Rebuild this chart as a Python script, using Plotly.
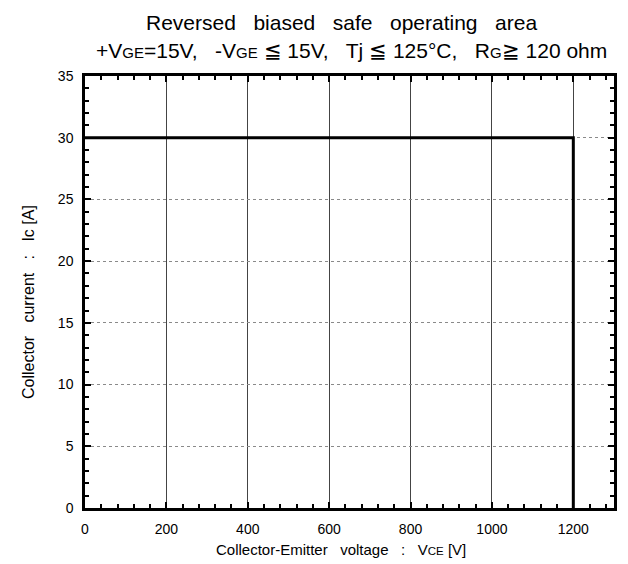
import plotly.graph_objects as go

voltage = [0, 1200, 1200]
current = [30, 30, 0]
x_ticks = [0, 200, 400, 600, 800, 1000, 1200]
y_ticks = [0, 5, 10, 15, 20, 25, 30, 35]

FONT = "Arial, Liberation Sans, sans-serif"


def sub(s, size):
    return f"<span style='font-size:{size}px'>{s}</span>"


# page offset (browser body margin) compensation
OFF = 8
PLOT_TOP, PLOT_H = 76, 432


def py(p):
    """page pixel y -> paper coordinate"""
    return 1 + (PLOT_TOP - p) / PLOT_H


def px(p):
    return (p - 85) / 529


fig = go.Figure()
fig.add_trace(go.Scatter(x=voltage, y=current, mode="lines",
                         line=dict(color="black", width=3), showlegend=False,
                         hoverinfo="skip"))

fig.update_layout(
    width=628, height=564,
    margin=dict(l=85 - OFF, r=14 + OFF, t=76 - OFF, b=56 + OFF, autoexpand=False),
    paper_bgcolor="white", plot_bgcolor="white",
    font=dict(family=FONT, color="black", size=14),
    xaxis=dict(range=[0, 1300], tickvals=x_ticks, ticks="inside", ticklen=6, tickwidth=2,
               tickcolor="black", showline=True, linewidth=2.5, linecolor="black",
               mirror="allticks", showgrid=True, gridcolor="#444444", gridwidth=1,
               zeroline=False, tickfont=dict(size=14), ticklabelstandoff=6,
               minor=dict(dtick=40, ticks="inside", ticklen=4, tickwidth=2,
                          tickcolor="black", showgrid=False)),
    yaxis=dict(range=[0, 35], tickvals=y_ticks, ticks="inside", ticklen=6, tickwidth=2,
               tickcolor="black", showline=True, linewidth=2.5, linecolor="black",
               mirror="allticks", showgrid=True, gridcolor="#8a8a8a", gridwidth=1,
               griddash="dot", zeroline=False, tickfont=dict(size=14), ticklabelstandoff=6,
               minor=dict(dtick=1, ticks="inside", ticklen=4, tickwidth=2,
                          tickcolor="black", showgrid=False)),
)

fig.add_annotation(text="Collector-Emitter   voltage   :   V" + sub("CE", 11.5) + " [V]",
                   x=px(341), xref="paper", y=py(549), yref="paper",
                   showarrow=False, font=dict(size=15), xanchor="center", yanchor="middle")
fig.add_annotation(text="Collector   current   :   Ic [A]", textangle=-90,
                   x=(28 - 85) / 529, xref="paper", y=py(302), yref="paper",
                   showarrow=False, font=dict(size=16), xanchor="center", yanchor="middle")
fig.add_annotation(text="Reversed   biased   safe   operating   area",
                   x=px(341), xref="paper", y=py(22), yref="paper",
                   showarrow=False, font=dict(size=21), xanchor="center", yanchor="middle")
line2 = ("+V" + sub("GE", 15) + "=15V,   -V" + sub("GE", 15) + " \u2266 15V,   Tj \u2266 125°C,   R"
         + sub("G", 15) + "\u2267 120 ohm")
fig.add_annotation(text=line2,
                   x=px(351), xref="paper", y=py(50), yref="paper",
                   showarrow=False, font=dict(size=21), xanchor="center", yanchor="middle")

fig.write_html("out.html")
